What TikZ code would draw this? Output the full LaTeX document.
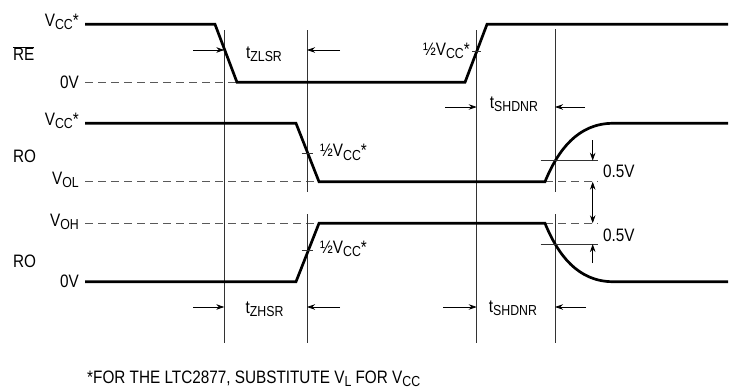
\documentclass[tikz,border=0pt]{standalone}
\usepackage{fontspec}
\setmainfont[FakeStretch=0.85]{Liberation Sans}
\usetikzlibrary{arrows.meta}
\newcommand{\vsub}[1]{\raisebox{-0.35ex}{\fontsize{14.5}{14.5}\selectfont #1}}

\begin{document}
\begin{tikzpicture}[x=1pt, y=-1pt,
    signal/.style={line width=2.7pt, line join=miter},
    guide/.style={line width=0.8pt, black!80},
    level/.style={line width=0.8pt, black!65, dash pattern=on 8pt off 5pt},
    arrow/.style={-{Stealth[length=8pt, width=5.5pt]}, line width=0.8pt},
    lbl/.style={inner sep=0pt, font=\fontsize{18}{18}\selectfont}
]
    \useasboundingbox (0,0) rectangle (736,388);

    % left hand labels
    \node[lbl, anchor=base east] (vccre) at (79,26.5) {V\vsub{CC}*};
    \node[lbl, anchor=base west] (re) at (13,60.5) {$\overline{\mbox{RE}}$};
    \node[lbl, anchor=base east] (zerore) at (79,88) {0V};
    \node[lbl, anchor=base east] (vccro) at (79,125.5) {V\vsub{CC}*};
    \node[lbl, anchor=base west] (roa) at (13,162.5) {RO};
    \node[lbl, anchor=base east] (vol) at (79,184) {V\vsub{OL}};
    \node[lbl, anchor=base east] (voh) at (79,226.5) {V\vsub{OH}};
    \node[lbl, anchor=base west] (rob) at (13,267) {RO};
    \node[lbl, anchor=base east] (zeroro) at (79,287.5) {0V};

    % reference levels
    \draw[level] (85,82.3) -- (237,82.3);
    \draw[level] (85,181.7) -- (320,181.7);
    \draw[level] (85,223.3) -- (320,223.3);
    \draw[level] (545,181.7) -- (598,181.7);
    \draw[level] (545,223.3) -- (598,223.3);

    % timing guides
    \draw[guide] (224.3,30) -- (224.3,343);
    \draw[guide] (307,30) -- (307,191.7);
    \draw[guide] (307,214) -- (307,343);
    \draw[guide] (476.7,30) -- (476.7,343);
    \draw[guide] (555,29) -- (555,191.7);
    \draw[guide] (555,214) -- (555,343);

    % waveforms
    \draw[signal] (85,24.3) -- (215,24.3) -- (237,82.3) -- (465,82.3)
        -- (487,24.3) -- (728,24.3);
    \draw[signal] (85,123.3) -- (296,123.3) -- (319,181.7) -- (545,181.7)
        .. controls (558,150) and (578,123.3) .. (613,123.3) -- (728,123.3);
    \draw[signal] (85,281.7) -- (296,281.7) -- (319,223.3) -- (545,223.3)
        .. controls (558,255) and (578,281.7) .. (613,281.7) -- (728,281.7);

    % half supply marks
    \draw[guide] (472.2,51.7) -- (481.2,51.7);
    \draw[guide] (301.5,153.3) -- (312.5,153.3);
    \draw[guide] (301.5,250.7) -- (312.5,250.7);
    \node[lbl, anchor=base east] (halfre) at (470,55) {½V\vsub{CC}*};
    \node[lbl, anchor=base west] (halfroa) at (320,156.7) {½V\vsub{CC}*};
    \node[lbl, anchor=base west] (halfrob) at (320,253.3) {½V\vsub{CC}*};

    % timing arrows
    \draw[arrow] (193,50) -- (224.3,50);
    \draw[arrow] (340,50) -- (307,50);
    \node[lbl, anchor=base] (tzlsr) at (264,58.5) {t\vsub{ZLSR}};
    \draw[arrow] (445,107) -- (476.7,107);
    \draw[arrow] (585,107) -- (555,107);
    \node[lbl, anchor=base] (tshdnra) at (514,108.5) {t\vsub{SHDNR}};
    \draw[arrow] (193,307) -- (224.3,307);
    \draw[arrow] (340,307) -- (307,307);
    \node[lbl, anchor=base] (tzhsr) at (264.5,313.5) {t\vsub{ZHSR}};
    \draw[arrow] (443,307) -- (476.7,307);
    \draw[arrow] (586,307) -- (555,307);
    \node[lbl, anchor=base] (tshdnrb) at (513,312.5) {t\vsub{SHDNR}};

    % 0.5V offsets
    \draw[guide] (540.7,160.7) -- (598,160.7);
    \draw[guide] (540.7,244) -- (598,244);
    \draw[arrow] (592.7,140) -- (592.7,160.7);
    \draw[arrow] (592.7,263) -- (592.7,244);
    \draw[arrow, {Stealth[length=8pt, width=5.5pt]}-{Stealth[length=8pt, width=5.5pt]}]
        (592.7,181.7) -- (592.7,223.3);
    \node[lbl, anchor=base west] (offa) at (603,177) {0.5V};
    \node[lbl, anchor=base west] (offb) at (603,241.5) {0.5V};

    % footnote
    \node[lbl, anchor=base west] (note) at (87,383)
        {*FOR THE LTC2877, SUBSTITUTE V\vsub{L} FOR V\vsub{CC}};
\end{tikzpicture}
\end{document}
